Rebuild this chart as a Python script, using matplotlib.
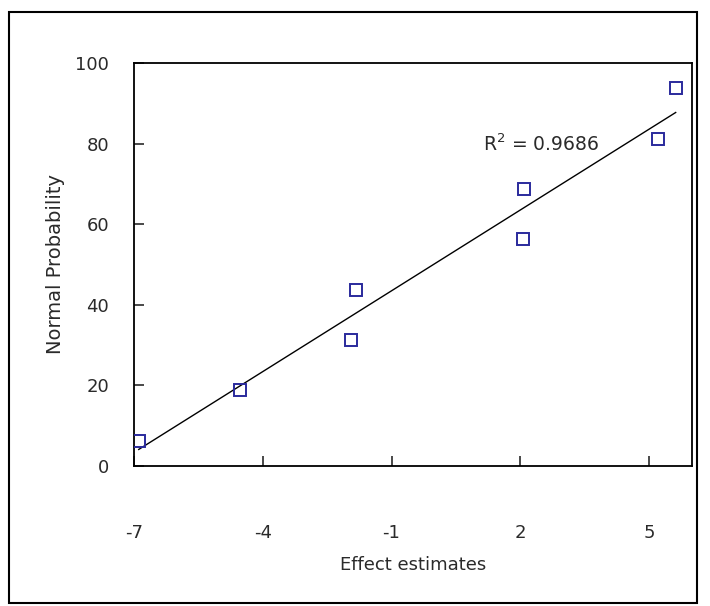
import numpy as np
import matplotlib
matplotlib.use("Agg")
import matplotlib.pyplot as plt
from matplotlib.patches import Rectangle

plt.rcParams['font.family'] = ['DejaVu Sans']
plt.rcParams['mathtext.fontset'] = 'dejavusans'
plt.rcParams['axes.unicode_minus'] = False

# Effect estimates and their normal probability (%)
effects = [-6.89, -4.52, -1.94, -1.82, 2.06, 2.09, 5.21, 5.62]
norm_prob = [6.25, 18.75, 31.25, 43.75, 56.25, 68.75, 81.25, 93.75]
x_ticks = [-7, -4, -1, 2, 5]
y_ticks = [0, 20, 40, 60, 80, 100]
r2_label = r"$\mathregular{R^2}$ = 0.9686"

fig = plt.figure(figsize=(7.10, 6.06), dpi=100)
ax = fig.add_axes([134/710, 1-466/606, (692-134)/710, (466-63)/606])

# least-squares trend line across the data range
slope, intercept = np.polyfit(effects, norm_prob, 1)
xl = np.array([min(effects), max(effects)])
ax.plot(xl, slope*xl + intercept, color='black', lw=1.0, zorder=2)

ax.plot(effects, norm_prob, linestyle='none', marker='s', markersize=8,
        markerfacecolor='none', markeredgecolor='#2a2a9c', markeredgewidth=1.4,
        zorder=3)

ax.text(1.12, 78.2, r2_label, fontsize=13.5, ha='left', va='baseline', color='#2a2a2a')

ax.set_xlim(-7, 6)
ax.set_ylim(0, 100)
ax.set_xticks(x_ticks)
ax.set_yticks(y_ticks)
ax.tick_params(axis='both', direction='in', length=7, width=1.2, labelsize=13,
               colors='#2a2a2a')
ax.tick_params(axis='x', pad=42)
ax.tick_params(axis='y', pad=18)
for s in ax.spines.values():
    s.set_linewidth(1.3)
    s.set_color('black')

ax.set_xlabel('Effect estimates', fontsize=13, labelpad=10, color='#2a2a2a')
ax.set_ylabel('Normal Probability', fontsize=14, labelpad=7, color='#2a2a2a')

# outer frame around the chart
fig.patches.append(Rectangle((9/710, 1-603/606), (697-9)/710, (603-12)/606,
                             transform=fig.transFigure, fill=False,
                             edgecolor='black', linewidth=1.5))

fig.savefig('out.png', dpi=100)
